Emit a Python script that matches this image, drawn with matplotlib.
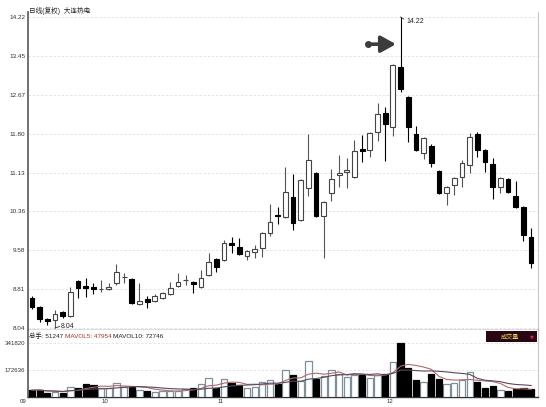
import matplotlib
matplotlib.use('Agg')
import matplotlib.pyplot as plt
import numpy as np
import pandas as pd
from matplotlib.patches import Rectangle

plt.rcParams['font.family'] = ['Liberation Sans', 'Noto Sans CJK SC', 'DejaVu Sans']

# ---------------- data ----------------
title_text = "日线(复权)  大连热电"
opens = [8.64, 8.46, 8.22, 8.20, 8.36, 8.28, 8.97, 8.88, 8.86, 8.81,
         8.82, 8.93, 9.05, 9.01, 8.52, 8.62, 8.58, 8.64, 8.72, 8.88,
         8.99, 8.95, 8.86, 9.09, 9.41, 9.39, 9.73, 9.65, 9.47, 9.55,
         9.63, 9.93, 10.29, 10.25, 10.64, 10.19, 10.82, 11.12, 10.27, 10.72,
         11.08, 11.14, 11.04, 11.60, 11.58, 11.94, 12.31, 12.03, 13.23, 12.63,
         11.90, 11.52, 11.66, 11.16, 10.72, 10.88, 11.04, 11.28, 11.90, 11.58,
         11.30, 10.84, 11.00, 10.66, 10.45, 9.85]
closes = [8.46, 8.22, 8.18, 8.32, 8.28, 8.76, 8.84, 8.84, 8.82, 8.82,
          8.86, 9.15, 9.05, 8.54, 8.58, 8.56, 8.68, 8.74, 8.84, 8.95,
          8.99, 8.91, 9.03, 9.35, 9.25, 9.73, 9.69, 9.51, 9.57, 9.61,
          9.93, 10.15, 10.27, 10.74, 10.13, 10.98, 11.38, 10.27, 10.54, 11.00,
          11.12, 11.18, 11.56, 11.56, 11.92, 12.29, 12.09, 13.27, 12.79, 12.03,
          11.58, 11.82, 11.32, 10.72, 10.84, 11.02, 11.32, 11.84, 11.58, 11.34,
          10.84, 11.02, 10.74, 10.45, 9.89, 9.33]
highs = [8.68, 8.48, 8.24, 8.40, 8.38, 8.86, 8.99, 9.03, 8.93, 8.99,
         8.93, 9.31, 9.13, 9.03, 8.93, 8.68, 8.72, 8.76, 8.95, 9.13,
         9.09, 8.97, 9.19, 9.53, 9.43, 9.79, 9.85, 9.83, 9.59, 9.69,
         9.95, 10.50, 10.45, 11.24, 11.10, 11.00, 11.90, 11.14, 10.56, 11.20,
         11.48, 11.42, 11.78, 11.88, 11.94, 12.51, 12.43, 13.29, 14.22, 12.65,
         12.05, 11.84, 11.70, 11.18, 10.86, 11.04, 11.38, 11.92, 11.94, 11.60,
         11.42, 11.04, 11.02, 10.96, 10.46, 10.03]
lows = [8.42, 8.16, 8.10, 8.04, 8.24, 8.26, 8.64, 8.66, 8.72, 8.76,
        8.80, 8.89, 8.93, 8.52, 8.50, 8.44, 8.56, 8.62, 8.70, 8.86,
        8.89, 8.74, 8.84, 9.07, 9.15, 9.37, 9.53, 9.49, 9.39, 9.43,
        9.45, 9.87, 10.11, 10.23, 9.99, 10.17, 10.66, 10.25, 9.43, 10.56,
        10.84, 10.82, 11.02, 11.34, 11.44, 11.76, 11.36, 11.86, 12.73, 11.74,
        11.56, 11.40, 11.24, 10.70, 10.48, 10.68, 10.84, 11.12, 11.44, 11.14,
        10.60, 10.72, 10.72, 10.43, 9.77, 9.23]
volumes = [43000, 45000, 28000, 34000, 24000, 66000, 60000, 82000, 75000, 60000,
           60000, 86000, 66000, 65000, 43000, 39000, 34000, 39000, 39000, 39000,
           52000, 58000, 84000, 123000, 58000, 116000, 90000, 77000, 58000, 64000,
           97000, 110000, 84000, 168000, 142000, 103000, 226000, 116000, 135000, 168000,
           148000, 129000, 138000, 142000, 123000, 142000, 148000, 219000, 341820, 181000,
           110000, 97000, 148000, 116000, 84000, 90000, 105000, 160000, 92000, 60000,
           71000, 45000, 35000, 50000, 58000, 51247]
price_tick_labels = ["8.04", "8.81", "9.58", "10.36", "11.13", "11.80", "12.67", "13.45", "14.22"]
vol_ticks = [172636, 341820]
vol_tick_labels = ["172636", "341820"]
month_labels = ["09", "10", "11", "12"]
month_label_pos = [-1.2, 9.5, 24.6, 46.6]
vol_header = [("总手: 51247 ", "#222222"), ("MAVOL5: 47954 ", "#b03030"), ("MAVOL10: 72746", "#222222")]
peak_label = "14.22"
low_label = "8.04"

n = len(opens)
x = np.arange(n)
o = np.array(opens); c = np.array(closes); h = np.array(highs); l = np.array(lows)
v = np.array(volumes, dtype=float)
up = c >= o

# ---------------- layout ----------------
W, H = 546, 407
fig = plt.figure(figsize=(W / 100, H / 100), dpi=100)
fig.patch.set_facecolor('white')

def rect(left, top, right, bottom):
    return [left / W, 1 - bottom / H, (right - left) / W, (bottom - top) / H]

axp = fig.add_axes(rect(28, 12, 538, 330))
axv = fig.add_axes(rect(28, 330, 538, 397), sharex=axp)

pmin, pmax = 8.04, 14.22
ppx = 311 / (pmax - pmin)
axp.set_ylim(pmin - 2 / ppx, pmax + 5 / ppx)
axp.set_xlim(-0.52, 65.9)

# ---------------- candles ----------------
for i in range(n):
    if up[i]:
        wc, fc, ec = '#555555', 'white', '#444444'
    else:
        wc, fc, ec = '#000000', '#000000', '#000000'
    axp.vlines(x[i], l[i], h[i], color=wc, lw=0.8, zorder=2)
    bot = min(o[i], c[i])
    ht = max(abs(c[i] - o[i]), 0.004)
    axp.bar(x[i], ht, bottom=bot, width=0.62, facecolor=fc, edgecolor=ec,
            linewidth=0.8, zorder=3)

# axes styling price
axp.set_yticks(np.linspace(pmin, pmax, 9))
axp.set_yticklabels(price_tick_labels)
axp.tick_params(axis='y', length=0, pad=2, labelsize=4.6, labelcolor='#333333')
axp.tick_params(axis='x', length=0, labelbottom=False)
axp.yaxis.grid(True, color='#e2e2e2', lw=0.6, ls=(0, (3, 2)))
axp.set_axisbelow(True)
axp.spines['top'].set_visible(False)
axp.spines['left'].set_color('#666666'); axp.spines['left'].set_linewidth(1.3)
axp.spines['right'].set_color('#c8c8c8'); axp.spines['right'].set_linewidth(0.8)
axp.spines['bottom'].set_color('#555555'); axp.spines['bottom'].set_linewidth(1.0)

# annotations
pk = int(np.argmax(h))
axp.plot([pk, pk + 0.4], [h[pk], h[pk] - 0.04], color='#333333', lw=0.6)
axp.text(pk + 0.75, h[pk] - 0.08, peak_label, fontsize=5, color='#222222', va='center', ha='left')
lo = int(np.argmin(l))
axp.plot([lo, lo + 0.6], [l[lo], l[lo] + 0.03], color='#333333', lw=0.6)
axp.text(lo + 0.75, l[lo] + 0.03, low_label, fontsize=5, color='#222222', va='center', ha='left')

ay = h[pk] - 0.54
axp.annotate('', xy=(pk - 0.6, ay), xytext=(pk - 4.3, ay),
             arrowprops=dict(arrowstyle='-|>,head_length=0.9,head_width=0.5',
                             lw=2.6, color='#3c3c3c', shrinkA=0, shrinkB=0))
axp.plot([pk - 4.3], [ay], 'o', ms=4, color='#3c3c3c')

fig.text(29 / W, 1 - 11 / H, title_text, fontsize=4.8, color='#222222', ha='left', va='center')

# ---------------- volume ----------------
vscale = 54 / 341820
axv.set_ylim(0, 67 / vscale)
axv.bar(x[up], v[up], width=0.82, facecolor='white', edgecolor='#7d8f9c', linewidth=0.9, zorder=3)
axv.bar(x[~up], v[~up], width=0.82, facecolor='black', edgecolor='black', linewidth=0.9, zorder=3)
ma5 = pd.Series(v).rolling(5, min_periods=1).mean()
ma10 = pd.Series(v).rolling(10, min_periods=1).mean()
axv.plot(x, ma5, color='#b06a6a', lw=0.8, zorder=4)
axv.plot(x, ma10, color='#5a4a5a', lw=0.8, zorder=4)

axv.set_yticks(vol_ticks)
axv.set_yticklabels(vol_tick_labels)
axv.tick_params(axis='y', length=0, pad=2, labelsize=4.4, labelcolor='#333333')
axv.tick_params(axis='x', length=0, labelbottom=False)
axv.yaxis.grid(True, color='#e2e2e2', lw=0.6, ls=(0, (3, 2)))
axv.set_axisbelow(True)
axv.spines['top'].set_visible(False)
axv.spines['left'].set_color('#666666'); axv.spines['left'].set_linewidth(1.3)
axv.spines['right'].set_color('#c8c8c8'); axv.spines['right'].set_linewidth(0.8)
axv.spines['bottom'].set_color('#333333'); axv.spines['bottom'].set_linewidth(1.0)

for lab, pos in zip(month_labels, month_label_pos):
    axv.text(pos, -0.06, lab, transform=axv.get_xaxis_transform(), fontsize=4.4,
             color='#333333', ha='center', va='center', clip_on=False)

# volume header (multi-colour)
fig.canvas.draw()
rend = fig.canvas.get_renderer()
xpos = 29
for txt, col in vol_header:
    t = fig.text(xpos / W, 1 - 336 / H, txt, fontsize=4.6, color=col, ha='left', va='center')
    bb = t.get_window_extent(renderer=rend)
    xpos += bb.width

# 成交量 box
fig.patches.append(Rectangle((486 / W, 1 - 342 / H), 51 / W, 11 / H, transform=fig.transFigure,
                             facecolor='#2a0612', edgecolor='none', zorder=5))
fig.text(510 / W, 1 - 336.5 / H, "成交量", fontsize=4.4, color='#e6d850', ha='center', va='center', zorder=6)
fig.text(532 / W, 1 - 336.5 / H, "▼", fontsize=3.6, color='#e0206a', ha='center', va='center', zorder=6,
         family=['DejaVu Sans'])

fig.savefig('out.png', dpi=100, facecolor='white')
